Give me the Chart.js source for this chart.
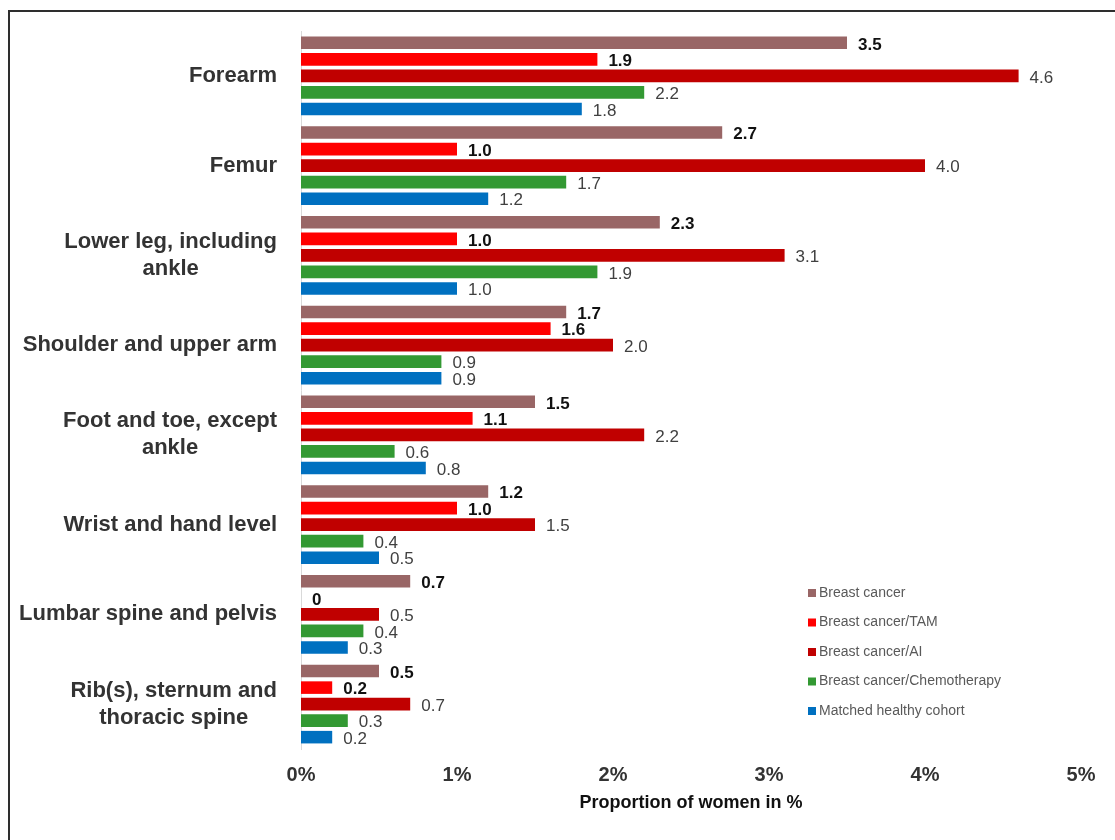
<!DOCTYPE html>
<html>
<head>
<meta charset="utf-8">
<script src="https://cdn.jsdelivr.net/npm/chart.js@4/dist/chart.umd.min.js"></script>
<style>
  html, body { margin: 0; padding: 0; background: #fff; overflow: hidden; }
  #wrap { position: relative; width: 1115px; height: 840px; }
  #frame { position: absolute; left: 8px; top: 10px; width: 1200px; height: 900px;
           border-left: 2px solid #2e2e2e; border-top: 2px solid #2e2e2e; }
  canvas { position: absolute; left: 0; top: 0; }
</style>
</head>
<body>
<div id="wrap">
  <div id="frame"></div>
  <canvas id="fractures" width="1115" height="840"></canvas>
</div>
<script>
const categories = [
  ['Forearm'],
  ['Femur'],
  ['Lower leg, including', 'ankle'],
  ['Shoulder and upper arm'],
  ['Foot and toe, except', 'ankle'],
  ['Wrist and hand level'],
  ['Lumbar spine and pelvis'],
  ['Rib(s), sternum and', 'thoracic spine']
];

const seriesNames = ['Breast cancer', 'Breast cancer/TAM', 'Breast cancer/AI', 'Breast cancer/Chemotherapy', 'Matched healthy cohort'];
const breastCancer = [3.5, 2.7, 2.3, 1.7, 1.5, 1.2, 0.7, 0.5];
const breastCancerTam = [1.9, 1.0, 1.0, 1.6, 1.1, 1.0, 0, 0.2];
const breastCancerAi = [4.6, 4.0, 3.1, 2.0, 2.2, 1.5, 0.5, 0.7];
const breastCancerChemo = [2.2, 1.7, 1.9, 0.9, 0.6, 0.4, 0.4, 0.3];
const healthyCohort = [1.8, 1.2, 1.0, 0.9, 0.8, 0.5, 0.3, 0.2];
const xTicks = [0, 1, 2, 3, 4, 5];

const colors = ['#996666', '#ff0000', '#c00000', '#339933', '#0070c0'];
const boldLabels = [true, true, false, false, false];
const FONT = "'Liberation Sans', Arial, sans-serif";

// category labels: block right aligned, lines centred inside the block
const categoryLabels = {
  id: 'categoryLabels',
  afterDraw(chart) {
    const ctx = chart.ctx;
    const y = chart.scales.y;
    ctx.save();
    ctx.font = 'bold 22px ' + FONT;
    ctx.fillStyle = '#333333';
    ctx.textAlign = 'center';
    ctx.textBaseline = 'middle';
    const right = 277, lh = 27;
    categories.forEach((lines, i) => {
      const cy = y.getPixelForValue(i);
      const w = Math.max(...lines.map(l => ctx.measureText(l).width));
      const cx = right - w / 2;
      const y0 = cy - (lines.length - 1) * lh / 2;
      lines.forEach((l, k) => ctx.fillText(l, cx, y0 + k * lh));
    });
    ctx.restore();
  }
};

// value labels at bar ends
const valueLabels = {
  id: 'valueLabels',
  afterDatasetsDraw(chart) {
    const ctx = chart.ctx;
    ctx.save();
    ctx.textAlign = 'left';
    ctx.textBaseline = 'middle';
    chart.data.datasets.forEach((ds, di) => {
      const meta = chart.getDatasetMeta(di);
      ctx.font = (boldLabels[di] ? 'bold ' : '') + '17px ' + FONT;
      ctx.fillStyle = boldLabels[di] ? '#111111' : '#404040';
      meta.data.forEach((bar, i) => {
        const v = ds.data[i];
        const txt = v === 0 ? '0' : v.toFixed(1);
        ctx.fillText(txt, bar.x + 11, bar.y + 2);
      });
    });
    ctx.restore();
  }
};

// legend placed inside the plot, lower right
const boxLegend = {
  id: 'boxLegend',
  afterDraw(chart) {
    const ctx = chart.ctx;
    ctx.save();
    ctx.font = '14px ' + FONT;
    ctx.textBaseline = 'middle';
    ctx.textAlign = 'left';
    seriesNames.forEach((name, i) => {
      const y = 593 + i * 29.5;
      ctx.fillStyle = colors[i];
      ctx.fillRect(808, y - 4, 8, 8);
      ctx.fillStyle = '#595959';
      ctx.fillText(name, 819, y);
    });
    ctx.restore();
  }
};

const datasets = [breastCancer, breastCancerTam, breastCancerAi, breastCancerChemo, healthyCohort].map((d, i) => ({
  label: seriesNames[i],
  data: d,
  backgroundColor: colors[i],
  borderWidth: 0,
  categoryPercentage: 0.92,
  barPercentage: 0.76
}));

new Chart(document.getElementById('fractures').getContext('2d'), {
  type: 'bar',
  data: { labels: categories.map(c => c.join(' ')), datasets: datasets },
  options: {
    indexAxis: 'y',
    responsive: false,
    animation: false,
    layout: { padding: { left: 0, right: 34, top: 31, bottom: 0 } },
    plugins: {
      legend: { display: false },
      tooltip: { enabled: false }
    },
    scales: {
      x: {
        min: 0,
        max: 5,
        afterBuildTicks(scale) {
          scale.ticks = xTicks.map(v => ({ value: v }));
        },
        afterFit(scale) { scale.height = 91; },
        grid: { display: false, drawTicks: false },
        border: { display: false },
        ticks: {
          padding: 14,
          color: '#333333',
          font: { family: FONT, size: 20, weight: 'bold' },
          callback: v => v + '%'
        },
        title: {
          display: true,
          text: 'Proportion of women in %',
          color: '#111111',
          font: { family: FONT, size: 18, weight: 'bold' },
          padding: { top: 0, bottom: 26 }
        }
      },
      y: {
        afterFit(scale) { scale.width = 301; },
        grid: { display: false, drawTicks: false },
        border: { display: true, color: '#d9d9d9', width: 1 },
        ticks: { display: false }
      }
    }
  },
  plugins: [categoryLabels, valueLabels, boxLegend]
});
</script>
</body>
</html>
